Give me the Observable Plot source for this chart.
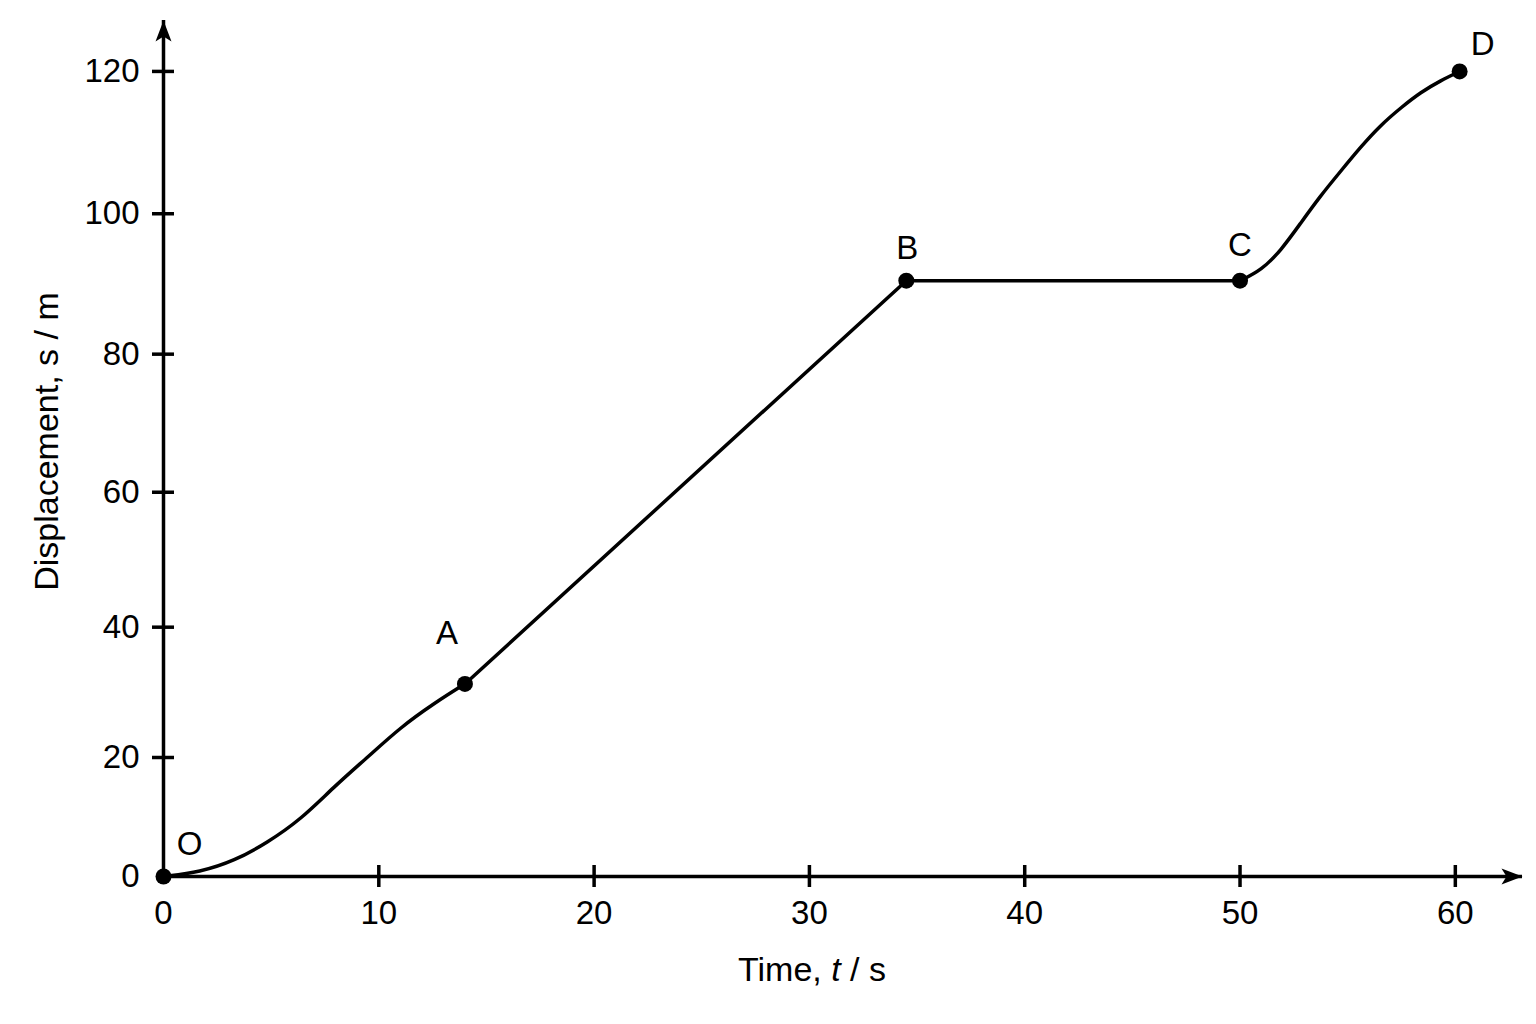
<!DOCTYPE html>
<html>
<head>
<meta charset="utf-8">
<script src="https://cdn.jsdelivr.net/npm/d3@7"></script>
<script src="https://cdn.jsdelivr.net/npm/@observablehq/plot@0.6"></script>
<style>
  html, body { margin: 0; padding: 0; background: #fff; }
  #chart svg { display: block; }
</style>
</head>
<body>
<div id="chart"></div>
<script>
// Key points of the displacement–time graph
const pointNames = ["O", "A", "B", "C", "D"];
const pointT = [0, 14.0, 34.5, 50.0, 60.2];
const pointS = [0, 31.4, 90.5, 90.5, 120.0];

// Curved section O → A
const curveOA_t = [0, 1.7, 3.3, 4.8, 6.4, 7.9, 9.5, 11.0, 12.6, 14.0];
const curveOA_s = [0, 0.9, 3.0, 6.1, 10.1, 15.3, 20.1, 24.7, 28.5, 31.4];

// Curved section C → D
const curveCD_t = [50.0, 51.0, 51.9, 52.8, 53.7, 54.7, 55.6, 56.5, 57.5, 58.4, 59.3, 60.2];
const curveCD_s = [90.5, 92.0, 94.8, 98.6, 102.4, 106.1, 109.4, 112.4, 115.0, 117.1, 118.7, 120.0];

// Axis ticks
const xTicks = [0, 10, 20, 30, 40, 50, 60];
const yTicks = [0, 20, 40, 60, 80, 100, 120];

const xTitle = "Time, t / s";
const yTitle = "Displacement, s / m";

// tables built from the arrays
const points = pointNames.map((n, i) => ({name: n, t: pointT[i], s: pointS[i]}));
const oa = curveOA_t.map((t, i) => ({t, s: curveOA_s[i]}));
const cd = curveCD_t.map((t, i) => ({t, s: curveCD_s[i]}));
const abc = points.slice(1, 4);

const labelOffsets = {O: [26, -32], A: [-18, -50], B: [1, -32], C: [0, -35], D: [23, -27]};

const arrowHead = {
  draw(ctx) {
    ctx.moveTo(0, 0);
    ctx.lineTo(8, 21);
    ctx.lineTo(0, 16);
    ctx.lineTo(-8, 21);
    ctx.closePath();
  }
};

const SW = 3.5;
const font = "'Liberation Sans', Arial, Helvetica, sans-serif";

const chart = Plot.plot({
  width: 1536,
  height: 1024,
  marginLeft: 163,
  marginRight: 14,
  marginTop: 20,
  marginBottom: 148,
  style: {fontFamily: font, fontSize: "33px", background: "#fff", color: "#000"},
  x: {domain: [0, 63.12], axis: null},
  y: {type: "pow", exponent: 1.067, domain: [0, 127.1], axis: null},
  marks: [
    // axis lines
    Plot.ruleY([0], {stroke: "#000", strokeWidth: SW}),
    Plot.ruleX([0], {stroke: "#000", strokeWidth: SW}),
    // crossing ticks
    Plot.ruleX(xTicks.slice(1), {x: d => d, y1: 0, y2: 0, insetTop: -11, insetBottom: -11, stroke: "#000", strokeWidth: SW}),
    Plot.ruleY(yTicks.slice(1), {y: d => d, x1: 0, x2: 0, insetLeft: -11, insetRight: -11, stroke: "#000", strokeWidth: SW}),
    // tick labels
    Plot.axisX({ticks: xTicks, tickSize: 0, tickPadding: 24, label: null, fontSize: 33, tickFormat: d => String(d)}),
    Plot.axisY({ticks: yTicks, tickSize: 0, tickPadding: 24, label: null, fontSize: 33, tickFormat: d => String(d)}),
    // arrowheads
    Plot.dot([0], {y: d => d, frameAnchor: "right", symbol: arrowHead, rotate: 90, fill: "#000", stroke: "none"}),
    Plot.dot([0], {x: d => d, frameAnchor: "top", symbol: arrowHead, rotate: 0, fill: "#000", stroke: "none"}),
    // the graph
    Plot.line(oa, {x: "t", y: "s", curve: "basis", stroke: "#000", strokeWidth: SW}),
    Plot.line(abc, {x: "t", y: "s", stroke: "#000", strokeWidth: SW}),
    Plot.line(cd, {x: "t", y: "s", curve: "basis", stroke: "#000", strokeWidth: SW}),
    Plot.dot(points, {x: "t", y: "s", r: 8, fill: "#000", stroke: "none"}),
    // point labels
    ...points.map(p => Plot.text([p], {
      x: "t", y: "s", text: "name",
      dx: labelOffsets[p.name][0], dy: labelOffsets[p.name][1],
      fontSize: 33, fill: "#000"
    })),
    // axis titles
    Plot.text([xTitle], {frameAnchor: "bottom", textAnchor: "middle", lineAnchor: "middle", dx: -31, dy: 94, text: d => d, fontSize: 34, fill: "#000"}),
    Plot.text([yTitle], {frameAnchor: "left", textAnchor: "middle", lineAnchor: "middle", dx: -116, dy: -7, rotate: -90, text: d => d, fontSize: 34, fill: "#000"})
  ]
});

document.getElementById("chart").appendChild(chart);

// italic "t" in the time label
for (const xt of chart.querySelectorAll("text")) {
  if (xt.textContent === xTitle) {
    xt.textContent = "";
    const parts = [["Time, ", null], ["t", "italic"], [" / s", null]];
    for (const [s, st] of parts) {
      const ts = document.createElementNS("http://www.w3.org/2000/svg", "tspan");
      ts.textContent = s;
      if (st) ts.setAttribute("font-style", st);
      xt.appendChild(ts);
    }
  }
}
</script>
</body>
</html>
